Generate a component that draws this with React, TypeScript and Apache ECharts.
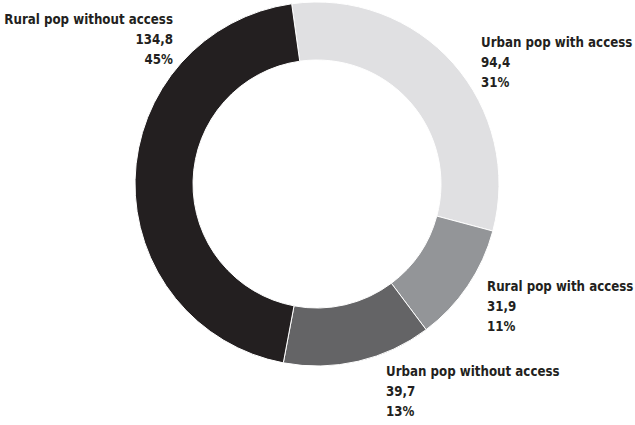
import React, { useEffect, useRef } from 'react';
import * as echarts from 'echarts';

const categories = [
  'Urban pop with access',
  'Rural pop with access',
  'Urban pop without access',
  'Rural pop without access',
];
const values = [94.4, 31.9, 39.7, 134.8];
const colors = ['#e0e0e2', '#939598', '#646466', '#231f20'];

// label layout (text box top-left / top-right anchor)
const labelX = [481, 487, 386, 173];
const labelY = [32, 276, 361, 9];
const labelAlign = ['left', 'left', 'left', 'right'];

const FONT = "'DejaVu Sans Condensed', 'Roboto', sans-serif";

export default function App() {
  const ref = useRef<HTMLDivElement>(null);
  useEffect(() => {
    const chart = echarts.init(ref.current!, null, { renderer: 'svg' });
    chart.setOption({
      animation: false,
      series: [
        {
          type: 'pie',
          center: [317, 184],
          radius: [124, 182],
          startAngle: 98,
          clockwise: true,
          avoidLabelOverlap: false,
          itemStyle: { borderColor: '#ffffff', borderWidth: 1 },
          label: {
            show: true,
            position: 'outside',
            fontFamily: FONT,
            fontSize: 13.2,
            fontWeight: 'bold',
            color: '#231f20',
            lineHeight: 20,
            formatter: (p: any) =>
              `${p.name}\n${Number(p.value).toFixed(1).replace('.', ',')}\n${Math.round(p.percent)}%`,
          },
          labelLine: { show: false },
          labelLayout: (p: any) => ({
            x: labelX[p.dataIndex],
            y: labelY[p.dataIndex],
            align: labelAlign[p.dataIndex],
            verticalAlign: 'top',
          }),
          emphasis: { disabled: true },
          data: categories.map((c, i) => ({
            name: c,
            value: values[i],
            itemStyle: { color: colors[i] },
            label: { align: labelAlign[i] },
          })),
        },
      ],
    });
    return () => chart.dispose();
  }, []);
  return (
    <div
      ref={ref}
      style={{ position: 'absolute', left: 0, top: 0, width: 635, height: 425, background: '#ffffff' }}
    />
  );
}
